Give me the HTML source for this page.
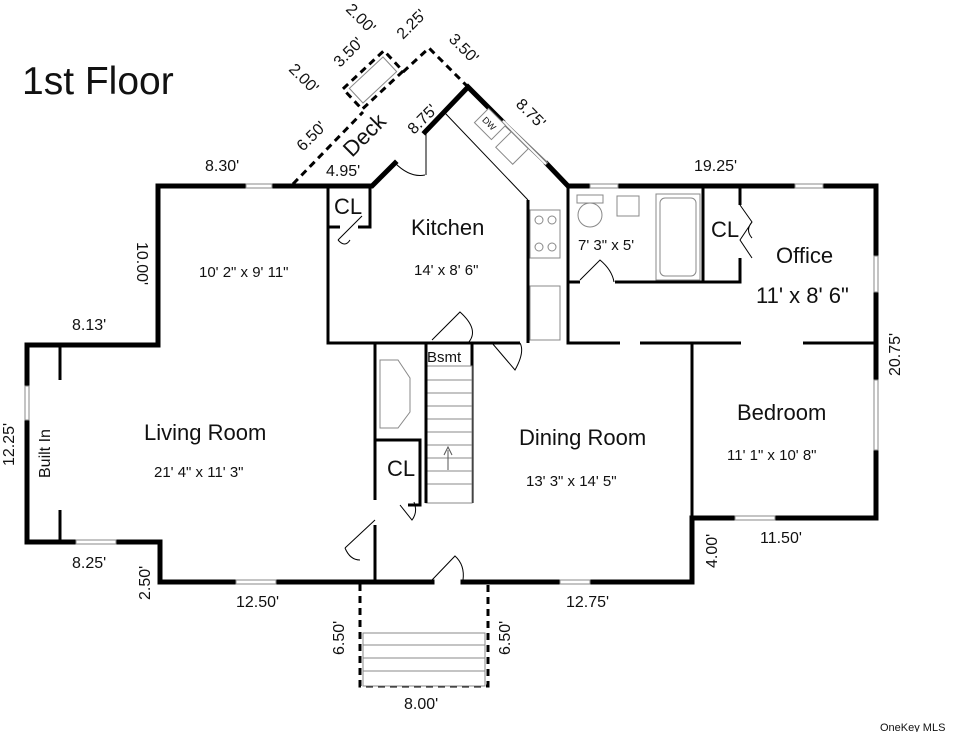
<!DOCTYPE html>
<html><head><meta charset="utf-8"><style>
html,body{margin:0;padding:0;background:#fff;}
svg{display:block;font-family:"Liberation Sans",sans-serif;}
.w{stroke:#000;stroke-width:5;fill:none;stroke-linecap:square}
.t{stroke:#000;stroke-width:3;fill:none}
.th{stroke:#000;stroke-width:1;fill:none}
.g{stroke:#888;stroke-width:1;fill:#fff}
.d{stroke:#000;stroke-width:3;fill:none;stroke-dasharray:7 5}
text{fill:#111}
.rm{font-size:22px}
.dm{font-size:15px}
.lb{font-size:16px}
</style></head><body>
<svg width="956" height="732" viewBox="0 0 956 732">
<text x="22" y="94" font-size="39">1st Floor</text>

<path class="w" d="M158,345 V186 H246 M272,186 H372 L395,163"/>
<path class="w" d="M425,132 L468,87 L502,121"/>
<path class="w" d="M547,164 L568,186 H590 M618,186 H795 M823,186 H876 V256 M876,292 V518 H692 V582 H566 M590,582 H463 M432,582 H160 V542 H116 M76,542 H27 V420 M27,386 V345 H158"/>
<g class="g"><rect x="246" y="184" width="26" height="4"/><rect x="590" y="184" width="28" height="4"/><rect x="795" y="184" width="28" height="4"/><rect x="874" y="256" width="4" height="36"/><rect x="874" y="380" width="4" height="70"/><rect x="25" y="386" width="4" height="34"/><rect x="76" y="540" width="40" height="4"/><rect x="236" y="580" width="40" height="4"/><rect x="560" y="580" width="30" height="4"/><rect x="735" y="516" width="40" height="4"/></g>
<line x1="502" y1="121" x2="547" y2="164" stroke="#777" stroke-width="4"/>
<line x1="503" y1="121" x2="546" y2="164" stroke="#fff" stroke-width="2"/>
<path class="t" d="M328,186 V343 H520 M328,227 H340 M358,227 H370 V186"/>
<path class="t" d="M375,343 V500 M375,525 V582"/>
<path class="t" d="M472,343 V503"/>
<path class="t" d="M375,440 H420 V505 H408"/>
<path class="t" d="M528,200 V343 M568,186 V343 H620 M640,343 H741 M803,343 H876"/>
<path class="t" d="M568,282 H580 M615,282 H740 V258 M740,205 V186 M703,186 V282"/>
<path class="t" d="M692,343 V518"/>
<path class="t" d="M60,345 V380 M60,510 V542"/>
<path class="th" d="M445,113 L528,200"/>
<line x1="426" y1="132" x2="426" y2="175" class="th"/>
<g class="th">
<path d="M395,163 Q410,178 425,175"/>
<path d="M338,240 L362,216 M338,240 Q345,248 350,240"/>
<path d="M432,340 L460,312 Q480,330 468,343"/>
<path d="M492,343 L515,370 Q525,352 520,343"/>
<path d="M345,548 L375,520 M345,548 Q350,560 360,560"/>
<path d="M400,505 L412,520 Q418,512 414,502"/>
<path d="M432,580 L455,556 Q465,565 463,580"/>
<path d="M580,280 L600,260 Q612,270 614,282"/>
<path d="M740,205 L752,222 L740,240 L752,258 M752,222 Q745,230 752,238"/>
</g>
<g class="g">
<rect x="530" y="210" width="30" height="48"/>
<circle cx="539" cy="220" r="4"/><circle cx="552" cy="220" r="4"/><circle cx="539" cy="247" r="4"/><circle cx="552" cy="247" r="4"/>
<rect x="530" y="286" width="30" height="54"/>
<rect x="577" y="195" width="26" height="8"/><ellipse cx="590" cy="215" rx="12" ry="12"/>
<rect x="617" y="196" width="22" height="20"/>
<rect x="656" y="194" width="44" height="86"/><rect x="660" y="198" width="36" height="78" rx="5"/>
<path d="M380,360 L398,360 L410,378 L410,412 L398,428 L380,428 Z"/>
<g transform="rotate(45 490 124)"><rect x="478" y="114" width="24" height="20"/></g>
<g transform="rotate(45 512 148)"><rect x="500" y="137" width="24" height="22"/></g>
</g>
<text x="481" y="126" font-size="9" transform="rotate(45 488 124)">DW</text>
<g class="g"><rect x="426" y="366" width="46" height="137"/></g>
<g stroke="#888" stroke-width="1">
<line x1="426" y1="380" x2="472" y2="380"/><line x1="426" y1="393" x2="472" y2="393"/><line x1="426" y1="406" x2="472" y2="406"/><line x1="426" y1="419" x2="472" y2="419"/><line x1="426" y1="432" x2="472" y2="432"/><line x1="426" y1="445" x2="472" y2="445"/><line x1="426" y1="458" x2="472" y2="458"/><line x1="426" y1="471" x2="472" y2="471"/><line x1="426" y1="484" x2="472" y2="484"/>
</g>
<path d="M448,470 V450 M444,455 L448,447 L452,455" stroke="#555" fill="none"/>
<line x1="426" y1="343" x2="426" y2="503" class="t"/>
<path class="d" d="M293,184 L363,112 M403,72 L429,48 L467,86"/>
<g transform="rotate(-43 373 80)"><rect x="345" y="66" width="56" height="28" class="d"/><rect x="350" y="70" width="46" height="20" class="g"/></g>
<path class="d" d="M360,584 V686 H488 V584"/>
<rect x="363" y="633" width="122" height="53" class="g"/>
<g stroke="#888"><line x1="363" y1="645" x2="485" y2="645"/><line x1="363" y1="658" x2="485" y2="658"/><line x1="363" y1="671" x2="485" y2="671"/></g>

<text class="rm" x="411" y="235">Kitchen</text>
<text class="dm" x="414" y="275">14' x 8' 6"</text>
<text class="rm" x="334" y="214" font-size="17">CL</text>
<text class="dm" x="199" y="277">10' 2" x 9' 11"</text>
<text class="rm" x="144" y="440">Living Room</text>
<text class="dm" x="154" y="477">21' 4" x 11' 3"</text>
<text class="lb" x="50" y="478" transform="rotate(-90 50 478)">Built In</text>
<text class="dm" x="427" y="362">Bsmt</text>
<text class="rm" x="387" y="476" font-size="18">CL</text>
<text class="rm" x="519" y="445">Dining Room</text>
<text class="dm" x="526" y="486">13' 3" x 14' 5"</text>
<text class="dm" x="578" y="250">7' 3" x 5'</text>
<text class="rm" x="711" y="237" font-size="18">CL</text>
<text class="rm" x="776" y="263">Office</text>
<text class="rm" x="756" y="303">11' x 8' 6"</text>
<text class="rm" x="737" y="420">Bedroom</text>
<text class="dm" x="727" y="460">11' 1" x 10' 8"</text>

<text class="lb" x="205" y="171">8.30'</text>
<text class="lb" x="326" y="176">4.95'</text>
<text class="lb" x="694" y="171">19.25'</text>
<text class="lb" x="72" y="330">8.13'</text>
<text class="lb" x="72" y="568">8.25'</text>
<text class="lb" x="236" y="607">12.50'</text>
<text class="lb" x="566" y="607">12.75'</text>
<text class="lb" x="404" y="709">8.00'</text>
<text class="lb" x="760" y="543">11.50'</text>
<text class="lb" x="137" y="242" transform="rotate(90 137 242)">10.00'</text>
<text class="lb" x="14" y="466" transform="rotate(-90 14 466)">12.25'</text>
<text class="lb" x="150" y="600" transform="rotate(-90 150 600)">2.50'</text>
<text class="lb" x="344" y="655" transform="rotate(-90 344 655)">6.50'</text>
<text class="lb" x="510" y="655" transform="rotate(-90 510 655)">6.50'</text>
<text class="lb" x="717" y="568" transform="rotate(-90 717 568)">4.00'</text>
<text class="lb" x="900" y="376" transform="rotate(-90 900 376)">20.75'</text>
<text class="rm" x="352" y="158" font-size="21" transform="rotate(-45 352 158)">Deck</text>
<text class="lb" x="303" y="152" transform="rotate(-45 303 152)">6.50'</text>
<text class="lb" x="414" y="135" transform="rotate(-45 414 135)">8.75'</text>
<text class="lb" x="288" y="70" transform="rotate(45 288 70)">2.00'</text>
<text class="lb" x="340" y="68" transform="rotate(-45 340 68)">3.50'</text>
<text class="lb" x="345" y="10" transform="rotate(45 345 10)">2.00'</text>
<text class="lb" x="403" y="40" transform="rotate(-45 403 40)">2.25'</text>
<text class="lb" x="448" y="40" transform="rotate(45 448 40)">3.50'</text>
<text class="lb" x="515" y="105" transform="rotate(45 515 105)">8.75'</text>
<text x="880" y="731" font-size="11" fill="#aaa">OneKey MLS</text>
</svg>
</body></html>
